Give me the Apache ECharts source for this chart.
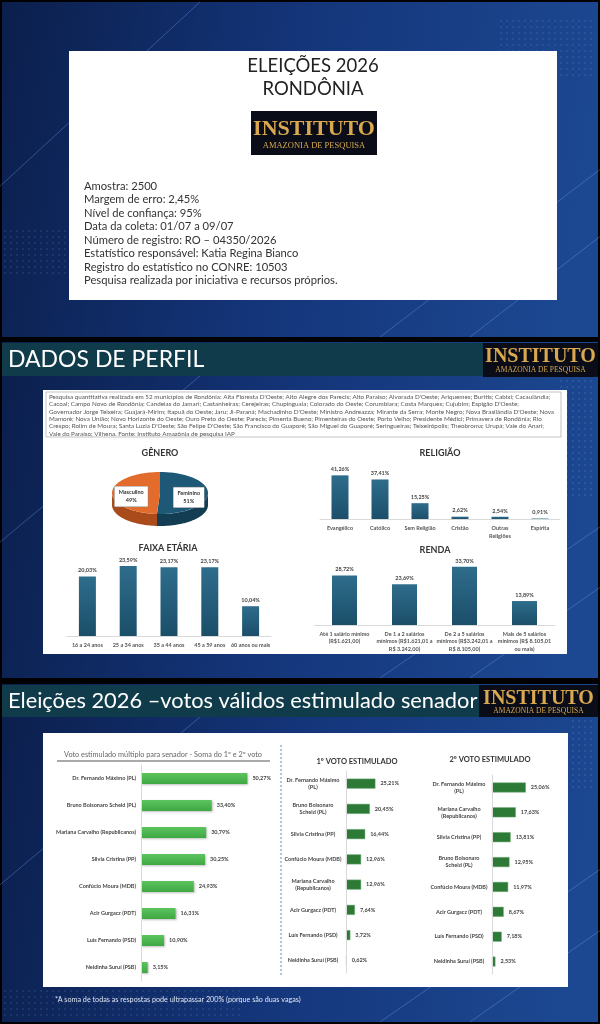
<!DOCTYPE html>
<html><head><meta charset="utf-8">
<script src="https://cdn.jsdelivr.net/npm/echarts@6/dist/echarts.min.js"></script>
<style>html,body{margin:0;padding:0;background:#000;}#c{width:600px;height:1024px;}</style>
</head><body><div id="c"></div>
<script>
// ---------- DATA ----------
const titleLines = ['ELEIÇÕES 2026', 'RONDÔNIA'];
const surveyInfo = [
  'Amostra: 2500',
  'Margem de erro: 2,45%',
  'Nível de confiança: 95%',
  'Data da coleta: 01/07 a 09/07',
  'Número de registro: RO – 04350/2026',
  'Estatístico responsável: Katia Regina Bianco',
  'Registro do estatístico no CONRE: 10503',
  'Pesquisa realizada por iniciativa e recursos próprios.'
];
const municipiosLines = [
  "Pesquisa quantitativa realizada em 52 municípios de Rondônia: Alta Floresta D'Oeste; Alto Alegre dos Parecis; Alto Paraíso; Alvorada D'Oeste; Ariquemes; Buritis; Cabixi; Cacaulândia;",
  "Cacoal; Campo Novo de Rondônia; Candeias do Jamari; Castanheiras; Cerejeiras; Chupinguaia; Colorado do Oeste; Corumbiara; Costa Marques; Cujubim; Espigão D'Oeste;",
  "Governador Jorge Teixeira; Guajará-Mirim; Itapuã do Oeste; Jaru; Ji-Paraná; Machadinho D'Oeste; Ministro Andreazza; Mirante da Serra; Monte Negro; Nova Brasilândia D'Oeste; Nova",
  "Mamoré; Nova União; Novo Horizonte do Oeste; Ouro Preto do Oeste; Parecis; Pimenta Bueno; Pimenteiras do Oeste; Porto Velho; Presidente Médici; Primavera de Rondônia; Rio",
  "Crespo; Rolim de Moura; Santa Luzia D'Oeste; São Felipe D'Oeste; São Francisco do Guaporé; São Miguel do Guaporé; Seringueiras; Teixeirópolis; Theobroma; Urupá; Vale do Anari;",
  "Vale do Paraíso; Vilhena. Fonte: Instituto Amazônia de pesquisa IAP"
];
const genderNames = ['Feminino', 'Masculino'];
const genderValues = [51, 49];
const ageCategories = ['16 a 24 anos', '25 a 34 anos', '35 a 44 anos', '45 a 59 anos', '60 anos ou mais'];
const ageValues = [20.03, 23.59, 23.17, 23.17, 10.04];
const religionCategories = ['Evangélico', 'Católico', 'Sem Religião', 'Cristão', 'Outras\nReligiões', 'Espírita'];
const religionValues = [41.26, 37.41, 15.25, 2.62, 2.54, 0.91];
const incomeCategories = [
  'Até 1 salário mínimo\n(R$1.621,00)',
  'De 1 a 2 salários\nmínimos (R$1.621,01 a\nR$ 3.242,00)',
  'De 2 a 5 salários\nmínimos (R$3.242,01 a\nR$ 8.105,00)',
  'Mais de 5 salários\nmínimos (R$ 8.105,01\nou mais)'
];
const incomeValues = [28.72, 23.69, 33.70, 13.89];
const multiCandidates = ['Dr. Fernando Máximo (PL)', 'Bruno Bolsonaro Scheid (PL)', 'Mariana Carvalho (Republicanos)', 'Silvia Cristina (PP)', 'Confúcio Moura (MDB)', 'Acir Gurgacz (PDT)', 'Luís Fernando (PSD)', 'Neidinha Suruí (PSB)'];
const multiValues = [50.27, 33.40, 30.79, 30.25, 24.93, 16.31, 10.90, 3.15];
const firstCandidates = ['Dr. Fernando Máximo\n(PL)', 'Bruno Bolsonaro\nScheid (PL)', 'Silvia Cristina (PP)', 'Confúcio Moura (MDB)', 'Mariana Carvalho\n(Republicanos)', 'Acir Gurgacz (PDT)', 'Luís Fernando (PSD)', 'Neidinha Suruí (PSB)'];
const firstValues = [25.21, 20.45, 16.44, 12.96, 12.96, 7.64, 3.72, 0.62];
const secondCandidates = ['Dr. Fernando Máximo\n(PL)', 'Mariana Carvalho\n(Republicanos)', 'Silvia Cristina (PP)', 'Bruno Bolsonaro\nScheid (PL)', 'Confúcio Moura (MDB)', 'Acir Gurgacz (PDT)', 'Luís Fernando (PSD)', 'Neidinha Suruí (PSB)'];
const secondValues = [25.06, 17.63, 13.81, 12.95, 11.97, 8.67, 7.18, 2.53];
const footnote = '*A soma de todas as respostas pode ultrapassar 200% (porque são duas vagas)';

// ---------- HELPERS ----------
const G = echarts.graphic;
const pct = p => Number(p.value).toFixed(2).replace('.', ',') + '%';
const SANS = 'Lato, "Open Sans", sans-serif';
const tealGrad = new G.LinearGradient(0, 0, 0, 1, [{offset: 0, color: '#2e6d8c'}, {offset: 1, color: '#1b4e69'}]);
const blueBg = () => new G.LinearGradient(0, 0, 1, 0.3, [{offset: 0, color: '#0b1f4c'}, {offset: 0.5, color: '#14357a'}, {offset: 1, color: '#1c4891'}]);

function logo(x, y, w, h, big, small) {
  return [
    {type: 'rect', shape: {x, y, width: w, height: h}, style: {fill: '#0a0d18'}, z: 1},
    {type: 'text', x: x + w / 2, y: y + h * 0.42, style: {text: 'INSTITUTO', fill: '#d9a84f', font: 'bold ' + big + 'px "Liberation Serif", serif', align: 'center', verticalAlign: 'middle'}, z: 2},
    {type: 'text', x: x + w / 2, y: y + h * 0.8, style: {text: 'AMAZONIA DE PESQUISA', fill: '#d7a84e', font: small + 'px "Liberation Serif", serif', align: 'center', verticalAlign: 'middle'}, z: 2}
  ];
}
function streaks(y0, y1) {
  const out = [];
  const lines = [[0, y0 + (y1 - y0) * 0.55, 200, y0], [380, y1, 600, y0 + (y1 - y0) * 0.5], [470, y1, 600, y0 + (y1 - y0) * 0.7]];
  lines.forEach(l => out.push({type: 'line', shape: {x1: l[0], y1: l[1], x2: l[2], y2: l[3]}, style: {stroke: 'rgba(120,170,255,0.35)', lineWidth: 1}, z: 0}));
  return out;
}
function dots(x0, y0, cols, rows, step, alpha) {
  const out = [];
  for (let r = 0; r < rows; r++) for (let c = 0; c < cols; c++) {
    out.push({type: 'rect', shape: {x: x0 + c * step, y: y0 + r * step, width: 2, height: 2}, style: {fill: 'rgba(140,170,230,' + alpha + ')'}, z: 0, silent: true});
  }
  return out;
}

// ---------- GRAPHICS ----------
const gfx = [];
// slide 1
gfx.push({type: 'rect', shape: {x: 2, y: 2, width: 596, height: 335}, style: {fill: blueBg()}, z: 0});
gfx.push(...streaks(2, 337));
gfx.push(...dots(4, 230, 20, 8, 6, 0.12), ...dots(500, 20, 16, 10, 6, 0.12));
gfx.push({type: 'rect', shape: {x: 69, y: 51, width: 488, height: 249}, style: {fill: '#ffffff'}, z: 1});
gfx.push({type: 'text', x: 313, y: 66, style: {text: titleLines[0], fill: '#222', font: '18.5px ' + SANS, align: 'center', verticalAlign: 'middle'}, z: 2});
gfx.push({type: 'text', x: 313, y: 89, style: {text: titleLines[1], fill: '#222', font: '18.5px ' + SANS, align: 'center', verticalAlign: 'middle'}, z: 2});
gfx.push(...logo(251, 111, 126, 44, 22, 8.5));
surveyInfo.forEach((t, i) => gfx.push({type: 'text', x: 84, y: 186 + i * 13.5, style: {text: t, fill: '#333', font: '11.2px ' + SANS, align: 'left', verticalAlign: 'middle'}, z: 2}));

// slide 2
gfx.push({type: 'rect', shape: {x: 2, y: 342, width: 596, height: 336}, style: {fill: blueBg()}, z: 0});
gfx.push(...streaks(376, 678));
gfx.push(...dots(560, 380, 6, 20, 6, 0.15));
gfx.push({type: 'rect', shape: {x: 2, y: 343, width: 481, height: 33}, style: {fill: '#0f3b4b'}, z: 1});
gfx.push({type: 'text', x: 8, y: 360, style: {text: 'DADOS DE PERFIL', fill: '#ffffff', font: '23px ' + SANS, align: 'left', verticalAlign: 'middle'}, z: 2});
gfx.push(...logo(483, 343, 115, 34, 20, 7.5));
gfx.push({type: 'rect', shape: {x: 43, y: 390, width: 524, height: 264}, style: {fill: '#ffffff'}, z: 1});
gfx.push({type: 'rect', shape: {x: 46, y: 392, width: 515, height: 45}, style: {fill: '#ffffff', stroke: '#9a9a9a', lineWidth: 0.6}, z: 2});
municipiosLines.forEach((t, i) => gfx.push({type: 'text', x: 49, y: 397 + i * 7.3, style: {text: t, fill: '#555', font: '6.3px ' + SANS, align: 'left', verticalAlign: 'middle'}, z: 3}));
[['GÊNERO', 160, 453], ['FAIXA ETÁRIA', 168, 548], ['RELIGIÃO', 440, 453], ['RENDA', 435, 550]].forEach(s =>
  gfx.push({type: 'text', x: s[1], y: s[2], style: {text: s[0], fill: '#333', font: 'bold 9px ' + SANS, align: 'center', verticalAlign: 'middle'}, z: 3}));

// slide 3
gfx.push({type: 'rect', shape: {x: 2, y: 684, width: 596, height: 338}, style: {fill: blueBg()}, z: 0});
gfx.push(...streaks(717, 1022));
gfx.push(...dots(4, 990, 40, 5, 6, 0.12), ...dots(572, 720, 4, 12, 6, 0.15));
gfx.push({type: 'rect', shape: {x: 2, y: 685, width: 477, height: 32}, style: {fill: '#0f3b4b'}, z: 1});
gfx.push({type: 'text', x: 8, y: 701, style: {text: 'Eleições 2026 –votos válidos estimulado senador', fill: '#ffffff', font: '21.8px ' + SANS, align: 'left', verticalAlign: 'middle'}, z: 2});
gfx.push(...logo(479, 685, 119, 32, 20, 7.5));
gfx.push({type: 'rect', shape: {x: 43, y: 733, width: 525, height: 254}, style: {fill: '#ffffff'}, z: 1});
gfx.push({type: 'text', x: 163, y: 755, style: {text: 'Voto estimulado múltiplo para senador - Soma do 1º e 2º voto', fill: '#666', font: '7.3px ' + SANS, align: 'center', verticalAlign: 'middle'}, z: 3});
gfx.push({type: 'line', shape: {x1: 57, y1: 761, x2: 270, y2: 761}, style: {stroke: '#555', lineWidth: 1}, z: 3});
gfx.push({type: 'line', shape: {x1: 281, y1: 745, x2: 281, y2: 975}, style: {stroke: '#4f8fd6', lineWidth: 1, lineDash: [2, 2]}, z: 3});
gfx.push({type: 'text', x: 357, y: 762, style: {text: '1º VOTO ESTIMULADO', fill: '#333', font: 'bold 7.5px ' + SANS, align: 'center', verticalAlign: 'middle'}, z: 3});
gfx.push({type: 'text', x: 490, y: 760, style: {text: '2º VOTO ESTIMULADO', fill: '#333', font: 'bold 7.5px ' + SANS, align: 'center', verticalAlign: 'middle'}, z: 3});
gfx.push({type: 'text', x: 55, y: 1000, style: {text: footnote, fill: '#dfe6f3', font: '7.2px ' + SANS, align: 'left', verticalAlign: 'middle'}, z: 3});

// ---------- 3D PIE (custom series) ----------
function pieItem(params, api) {
  const i = params.dataIndex;
  const total = genderValues.reduce((a, b) => a + b, 0);
  let start = -Math.PI / 2;
  for (let k = 0; k < i; k++) start += genderValues[k] / total * 2 * Math.PI;
  const end = start + genderValues[i] / total * 2 * Math.PI;
  const cx = 160, cy = 493, rx = 48, ry = 21, d = 12, n = 80;
  const top = i === 0 ? '#1d5877' : '#e36b2c';
  const side = i === 0 ? '#123d53' : '#a94b1b';
  const children = [];
  const a0 = Math.max(start, 0), a1 = Math.min(end, Math.PI);
  if (a1 > a0) {
    const pts = [];
    for (let s = 0; s <= n; s++) { const a = a0 + (a1 - a0) * s / n; pts.push([cx + rx * Math.cos(a), cy + ry * Math.sin(a)]); }
    for (let s = n; s >= 0; s--) { const a = a0 + (a1 - a0) * s / n; pts.push([cx + rx * Math.cos(a), cy + ry * Math.sin(a) + d]); }
    children.push({type: 'polygon', shape: {points: pts}, style: {fill: side}});
  }
  const tp = [[cx, cy]];
  for (let s = 0; s <= n; s++) { const a = start + (end - start) * s / n; tp.push([cx + rx * Math.cos(a), cy + ry * Math.sin(a)]); }
  children.push({type: 'polygon', shape: {points: tp}, style: {fill: top}});
  const mid = (start + end) / 2;
  children.push({type: 'text', style: {
    text: genderNames[i] + '\n' + genderValues[i] + '%',
    x: cx + rx * 0.6 * Math.cos(mid), y: cy + ry * 0.6 * Math.sin(mid) + 4,
    align: 'center', verticalAlign: 'middle', fill: '#333', font: 'bold 5.5px ' + SANS, lineHeight: 8,
    backgroundColor: '#ffffff', borderColor: '#8a8a8a', borderWidth: 0.5, padding: [2, 4]
  }});
  return {type: 'group', children};
}

// ---------- AXES ----------
const colLabel = {show: true, position: 'top', formatter: pct, fontSize: 5.5, fontWeight: 'bold', color: '#444', distance: 3, fontFamily: SANS};
const catX = (data, gi) => ({type: 'category', gridIndex: gi, data, z: 10, axisTick: {show: false},
  axisLine: {lineStyle: {color: '#d9d9d9'}}, axisLabel: {interval: 0, fontSize: 5.5, fontWeight: 'bold', color: '#555', margin: 5, lineHeight: 7.5, fontFamily: SANS}});
const valY = (gi, max) => ({type: 'value', gridIndex: gi, min: 0, max, show: false, splitLine: {show: false}});
const catY = (data, gi, margin, align) => ({type: 'category', gridIndex: gi, data, z: 10, inverse: true, axisTick: {show: false},
  axisLine: {lineStyle: {color: '#d9d9d9'}}, axisLabel: {interval: 0, fontSize: 5.5, fontWeight: 'bold', color: '#444', margin, align, lineHeight: 7, fontFamily: SANS}});
const valX = (gi, max) => ({type: 'value', gridIndex: gi, min: 0, max, show: false, splitLine: {show: false}});
const hLabel = {show: true, position: 'right', formatter: pct, fontSize: 5.5, fontWeight: 'bold', color: '#444', distance: 5, fontFamily: SANS};

const option = {
  backgroundColor: '#000',
  animation: false,
  graphic: {elements: gfx},
  grid: [
    {left: 67, top: 547, width: 204, height: 89},
    {left: 320, top: 466, width: 240, height: 53.5},
    {left: 314.5, top: 556, width: 240, height: 69},
    {left: 141, top: 765, width: 127, height: 216},
    {left: 346, top: 771, width: 35, height: 202},
    {left: 492, top: 775, width: 40.5, height: 199}
  ],
  xAxis: [catX(ageCategories, 0), catX(religionCategories, 1), catX(incomeCategories, 2), valX(3, 60), valX(4, 30), valX(5, 30)],
  yAxis: [valY(0, 30), valY(1, 50), valY(2, 40), catY(multiCandidates, 3, 5, 'right'), catY(firstCandidates, 4, 33, 'center'), catY(secondCandidates, 5, 33, 'center')],
  series: [
    {type: 'custom', coordinateSystem: 'none', renderItem: pieItem, data: genderValues, silent: true, z: 5},
    {type: 'bar', xAxisIndex: 0, yAxisIndex: 0, data: ageValues, barWidth: 17, itemStyle: {color: tealGrad}, label: colLabel},
    {type: 'bar', xAxisIndex: 1, yAxisIndex: 1, data: religionValues, barWidth: 17, itemStyle: {color: tealGrad}, label: colLabel},
    {type: 'bar', xAxisIndex: 2, yAxisIndex: 2, data: incomeValues, barWidth: 25, itemStyle: {color: tealGrad}, label: colLabel},
    {type: 'bar', xAxisIndex: 3, yAxisIndex: 3, data: multiValues, barWidth: 11, label: hLabel,
      itemStyle: {color: new G.LinearGradient(0, 0, 0, 1, [{offset: 0, color: '#5cc35d'}, {offset: 1, color: '#3fa843'}]), shadowColor: 'rgba(0,0,0,0.25)', shadowBlur: 2, shadowOffsetX: 1, shadowOffsetY: 1}},
    {type: 'bar', xAxisIndex: 4, yAxisIndex: 4, data: firstValues, barWidth: 10, label: hLabel,
      itemStyle: {color: '#2d7a37', borderColor: '#6fa876', borderWidth: 0.5}},
    {type: 'bar', xAxisIndex: 5, yAxisIndex: 5, data: secondValues, barWidth: 10, label: hLabel,
      itemStyle: {color: '#2d7a37', borderColor: '#6fa876', borderWidth: 0.5}}
  ]
};
const chart = echarts.init(document.getElementById('c'), null, {renderer: 'canvas', width: 600, height: 1024});
chart.setOption(option);
</script></body></html>
